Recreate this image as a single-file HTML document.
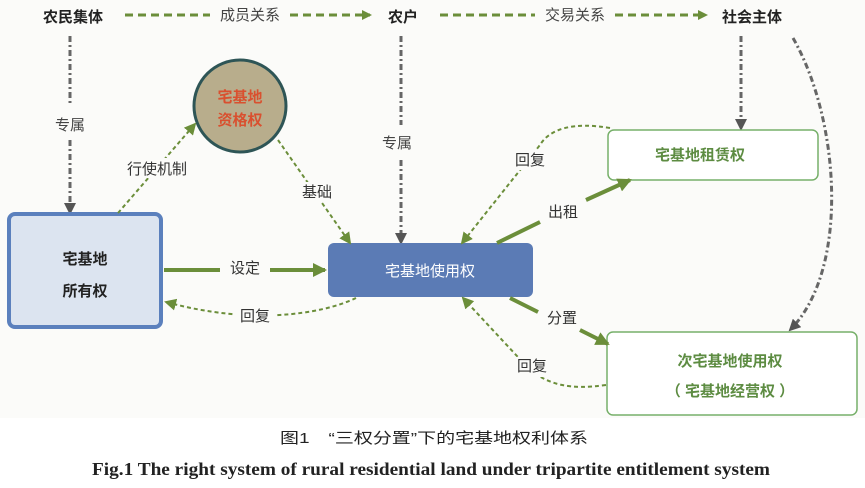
<!DOCTYPE html>
<html><head><meta charset="utf-8"><style>
body{margin:0;background:#fff;width:865px;height:483px;overflow:hidden}
text{font-family:"Liberation Sans","Noto Sans CJK SC",sans-serif}
.s{font-family:"Liberation Serif","Noto Serif CJK SC",serif}
</style></head><body>
<svg width="865" height="483" viewBox="0 0 865 483">
<defs>
<marker id="g" markerWidth="6" markerHeight="6" refX="5" refY="3" orient="auto" markerUnits="strokeWidth"><path d="M0,0L6,3L0,6z" fill="#6b8e3a"/></marker>
<marker id="gs" markerWidth="10" markerHeight="10" refX="8" refY="5" orient="auto" markerUnits="userSpaceOnUse"><path d="M0,0L10,5L0,10z" fill="#6b8e3a"/></marker>
<marker id="gb" markerWidth="14" markerHeight="14" refX="12" refY="7" orient="auto" markerUnits="userSpaceOnUse"><path d="M0,0L14,7L0,14z" fill="#6b8e3a"/></marker>
<marker id="k" markerWidth="12" markerHeight="12" refX="10" refY="6" orient="auto" markerUnits="userSpaceOnUse"><path d="M0,0L12,6L0,12z" fill="#555"/></marker>
</defs>
<rect x="0" y="0" width="865" height="418" fill="#fbfbf9"/>
<g font-size="15" font-weight="bold" fill="#222">
<text x="73" y="22" text-anchor="middle">农民集体</text>
<text x="403" y="22" text-anchor="middle">农户</text>
<text x="752" y="22" text-anchor="middle">社会主体</text>
</g>
<g stroke="#6b8e3a" stroke-width="3" stroke-dasharray="8,5" fill="none">
<line x1="125" y1="15" x2="210" y2="15"/><line x1="290" y1="15" x2="370" y2="15" marker-end="url(#gs)"/>
<line x1="440" y1="15" x2="535" y2="15"/><line x1="615" y1="15" x2="706" y2="15" marker-end="url(#gs)"/>
</g>
<g font-size="15" fill="#444" class="s">
<text x="250" y="20" text-anchor="middle">成员关系</text>
<text x="575" y="20" text-anchor="middle">交易关系</text>
</g>
<g stroke="#666" stroke-width="3" stroke-dasharray="6,3,2,3" fill="none">
<line x1="70" y1="36" x2="70" y2="105"/><line x1="70" y1="140" x2="70" y2="213" marker-end="url(#k)"/>
<line x1="401" y1="36" x2="401" y2="125"/><line x1="401" y1="160" x2="401" y2="243" marker-end="url(#k)"/>
<line x1="741" y1="36" x2="741" y2="129" marker-end="url(#k)"/>
<path d="M793,38 C840,120 850,270 790,330" marker-end="url(#k)"/>
</g>
<g font-size="15" fill="#444" class="s">
<text x="70" y="130" text-anchor="middle">专属</text>
<text x="397" y="148" text-anchor="middle">专属</text>
</g>
<circle cx="240" cy="106" r="46" fill="#b8ad8c" stroke="#2e5556" stroke-width="3"/>
<g font-size="15" font-weight="bold" fill="#d9502f" text-anchor="middle">
<text x="240" y="102">宅基地</text><text x="240" y="125">资格权</text>
</g>
<rect x="9" y="214" width="152" height="113" rx="6" fill="#dce4f0" stroke="#5b80bd" stroke-width="4"/>
<g font-size="15" font-weight="bold" fill="#222" text-anchor="middle">
<text x="85" y="264">宅基地</text><text x="85" y="296">所有权</text>
</g>
<rect x="328" y="243" width="205" height="54" rx="6" fill="#5b7bb5"/>
<text x="430" y="276" font-size="15" fill="#fff" text-anchor="middle">宅基地使用权</text>
<rect x="608" y="130" width="210" height="50" rx="6" fill="#fff" stroke="#77b06a" stroke-width="1.5"/>
<text x="700" y="160" font-size="15" font-weight="bold" fill="#5d8c42" text-anchor="middle">宅基地租赁权</text>
<rect x="607" y="332" width="250" height="83" rx="6" fill="#fff" stroke="#77b06a" stroke-width="1.5"/>
<g font-size="15" font-weight="bold" fill="#5d8c42" text-anchor="middle">
<text x="730" y="366">次宅基地使用权</text><text x="730" y="396">（ 宅基地经营权 ）</text>
</g>
<g stroke="#6b8e3a" stroke-width="4" fill="none">
<line x1="164" y1="270" x2="220" y2="270"/><line x1="270" y1="270" x2="325" y2="270" marker-end="url(#gb)"/>
<line x1="497" y1="243" x2="540" y2="222"/><line x1="586" y1="200" x2="630" y2="180" marker-end="url(#gb)"/>
<line x1="510" y1="298" x2="538" y2="312"/><line x1="580" y1="330" x2="608" y2="344" marker-end="url(#gb)"/>
</g>
<g stroke="#6b8e3a" stroke-width="2" stroke-dasharray="4,3" fill="none">
<path d="M356,298 C320,315 250,325 166,302" marker-end="url(#g)"/>
<path d="M118,213 L195,124" marker-end="url(#g)"/>
<path d="M278,140 L350,243" marker-end="url(#g)"/>
<path d="M610,128 C575,122 550,128 540,145 L462,243" marker-end="url(#g)"/>
<path d="M606,385 C570,390 550,385 530,370 L463,298" marker-end="url(#g)"/>
</g>
<g font-size="15" fill="#333" class="s" text-anchor="middle">
<rect x="223" y="258" width="44" height="18" fill="#fbfbf9"/>
<text x="245" y="273">设定</text>
<rect x="235" y="306" width="40" height="18" fill="#fbfbf9"/>
<text x="255" y="321">回复</text>
<rect x="120" y="158" width="76" height="20" fill="#fbfbf9"/>
<text x="157" y="174">行使机制</text>
<rect x="297" y="182" width="40" height="20" fill="#fbfbf9"/>
<text x="317" y="197">基础</text>
<rect x="510" y="150" width="40" height="20" fill="#fbfbf9"/>
<text x="530" y="165">回复</text>
<rect x="542" y="203" width="42" height="20" fill="#fbfbf9"/>
<text x="563" y="217">出租</text>
<rect x="542" y="308" width="40" height="20" fill="#fbfbf9"/>
<text x="562" y="323">分置</text>
<rect x="512" y="357" width="40" height="20" fill="#fbfbf9"/>
<text x="532" y="371">回复</text>
</g>
<text x="280" y="443" font-size="15" fill="#222" textLength="308" lengthAdjust="spacingAndGlyphs">图1　“三权分置”下的宅基地权利体系</text>
<text x="92" y="475" font-size="18" font-weight="bold" fill="#222" class="s" textLength="678" lengthAdjust="spacingAndGlyphs">Fig.1   The right system of rural residential land under tripartite entitlement system</text>
</svg>
</body></html>
